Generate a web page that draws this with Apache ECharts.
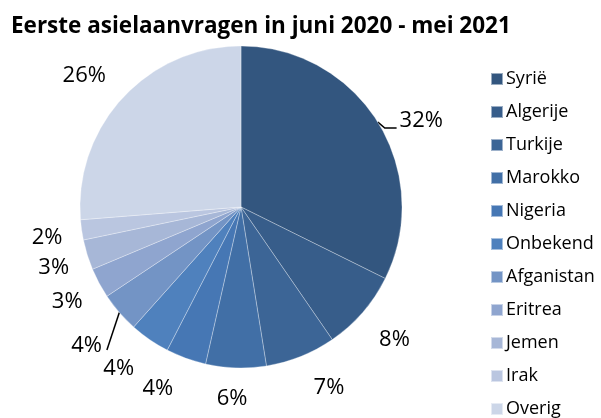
<!DOCTYPE html>
<html>
<head>
<meta charset="utf-8">
<script src="https://cdn.jsdelivr.net/npm/echarts@6/dist/echarts.min.js"></script>
<style>
  html, body { margin: 0; padding: 0; background: #fff; }
  #chart { width: 601px; height: 418px; }
</style>
</head>
<body>
<div id="chart"></div>
<script>
var countries = ['Syrië', 'Algerije', 'Turkije', 'Marokko', 'Nigeria', 'Onbekend', 'Afganistan', 'Eritrea', 'Jemen', 'Irak', 'Overig'];
var shares = [32, 8, 7, 6, 4, 4, 4, 3, 3, 2, 26];
var colors = ['#33567f', '#375d8a', '#3c6596', '#416fa6', '#4677b4', '#4f81bd', '#7394c5', '#8fa5cf', '#a7b7d7', '#bac6e0', '#ccd6e8'];

var cx = 241, cy = 207, R = 161;
var labelGap = 14;
// small hand nudges so the labels sit where excel put them
var nudge = {
  'Syrië': [11, 16], 'Algerije': [7, 3], 'Turkije': [17, 0], 'Marokko': [-3, 2],
  'Nigeria': [-18, 0], 'Onbekend': [-13, 0], 'Afganistan': [-8, 9],
  'Eritrea': [-3, 0], 'Jemen': [-3, 0], 'Irak': [-4, 0], 'Overig': [-11, 0]
};

var chart = echarts.init(document.getElementById('chart'));

var total = shares.reduce(function (a, b) { return a + b; }, 0);

// mid angle of a slice, clockwise from 12 o'clock (radians)
function midAngle(idx) {
  var before = 0;
  for (var i = 0; i < idx; i++) before += shares[i];
  return (before + shares[idx] / 2) / total * Math.PI * 2;
}

var pieData = countries.map(function (name, i) {
  var item = { name: name, value: shares[i] };
  // only these two get a leader line in the original
  if (name === 'Syrië' || name === 'Afganistan') {
    item.labelLine = { show: true };
  }
  return item;
});

// put labels radially outside the slice, excel style
function placeLabel(params) {
  var a = midAngle(params.dataIndex);
  var dx = Math.sin(a), dy = -Math.cos(a);
  var w = params.labelRect.width, h = params.labelRect.height;
  var r = R + labelGap + Math.abs(dx) * w / 2 + Math.abs(dy) * h / 2;
  var name = countries[params.dataIndex];
  var n = nudge[name] || [0, 0];
  var x = cx + r * dx + n[0], y = cy + r * dy + 3 + n[1];
  var res = { x: x, y: y, align: 'center', verticalAlign: 'middle' };
  var edge = [cx + R * dx, cy + R * dy];
  if (name === 'Syrië') {
    res.labelLinePoints = [edge, [edge[0] + 7, edge[1] + 6], [x - w / 2 - 3, edge[1] + 6]];
  } else if (name === 'Afganistan') {
    var end = [x + w / 2 + 5, y + 4];
    res.labelLinePoints = [edge, end, end];
  }
  return res;
}

chart.setOption({
  animation: false,
  color: colors,
  title: {
    text: 'Eerste asielaanvragen in juni 2020 - mei 2021',
    left: 6,
    top: 10,
    textStyle: { fontFamily: 'Open Sans', fontWeight: 'bold', fontSize: 22.5, color: '#000' }
  },
  legend: {
    orient: 'vertical',
    left: 485,
    top: 65,
    height: 370,
    itemWidth: 12,
    itemHeight: 12,
    itemGap: 15,
    icon: 'rect',
    textStyle: { fontFamily: 'Open Sans', fontSize: 18, color: '#000', padding: [0, 0, 0, -2] },
    data: countries
  },
  series: [{
    type: 'pie',
    center: [cx, cy],
    radius: R,
    startAngle: 90,
    clockwise: true,
    data: pieData,
    itemStyle: { borderColor: 'rgba(255,255,255,0.5)', borderWidth: 0.6 },
    label: {
      show: true,
      position: 'outside',
      formatter: '{c}%',
      fontFamily: 'Open Sans',
      fontSize: 22,
      color: '#000'
    },
    labelLine: { show: false, length: 10, length2: 5, lineStyle: { color: '#000', width: 1.5 } },
    labelLayout: placeLabel,
    emphasis: { disabled: true }
  }]
});
</script>
</body>
</html>
